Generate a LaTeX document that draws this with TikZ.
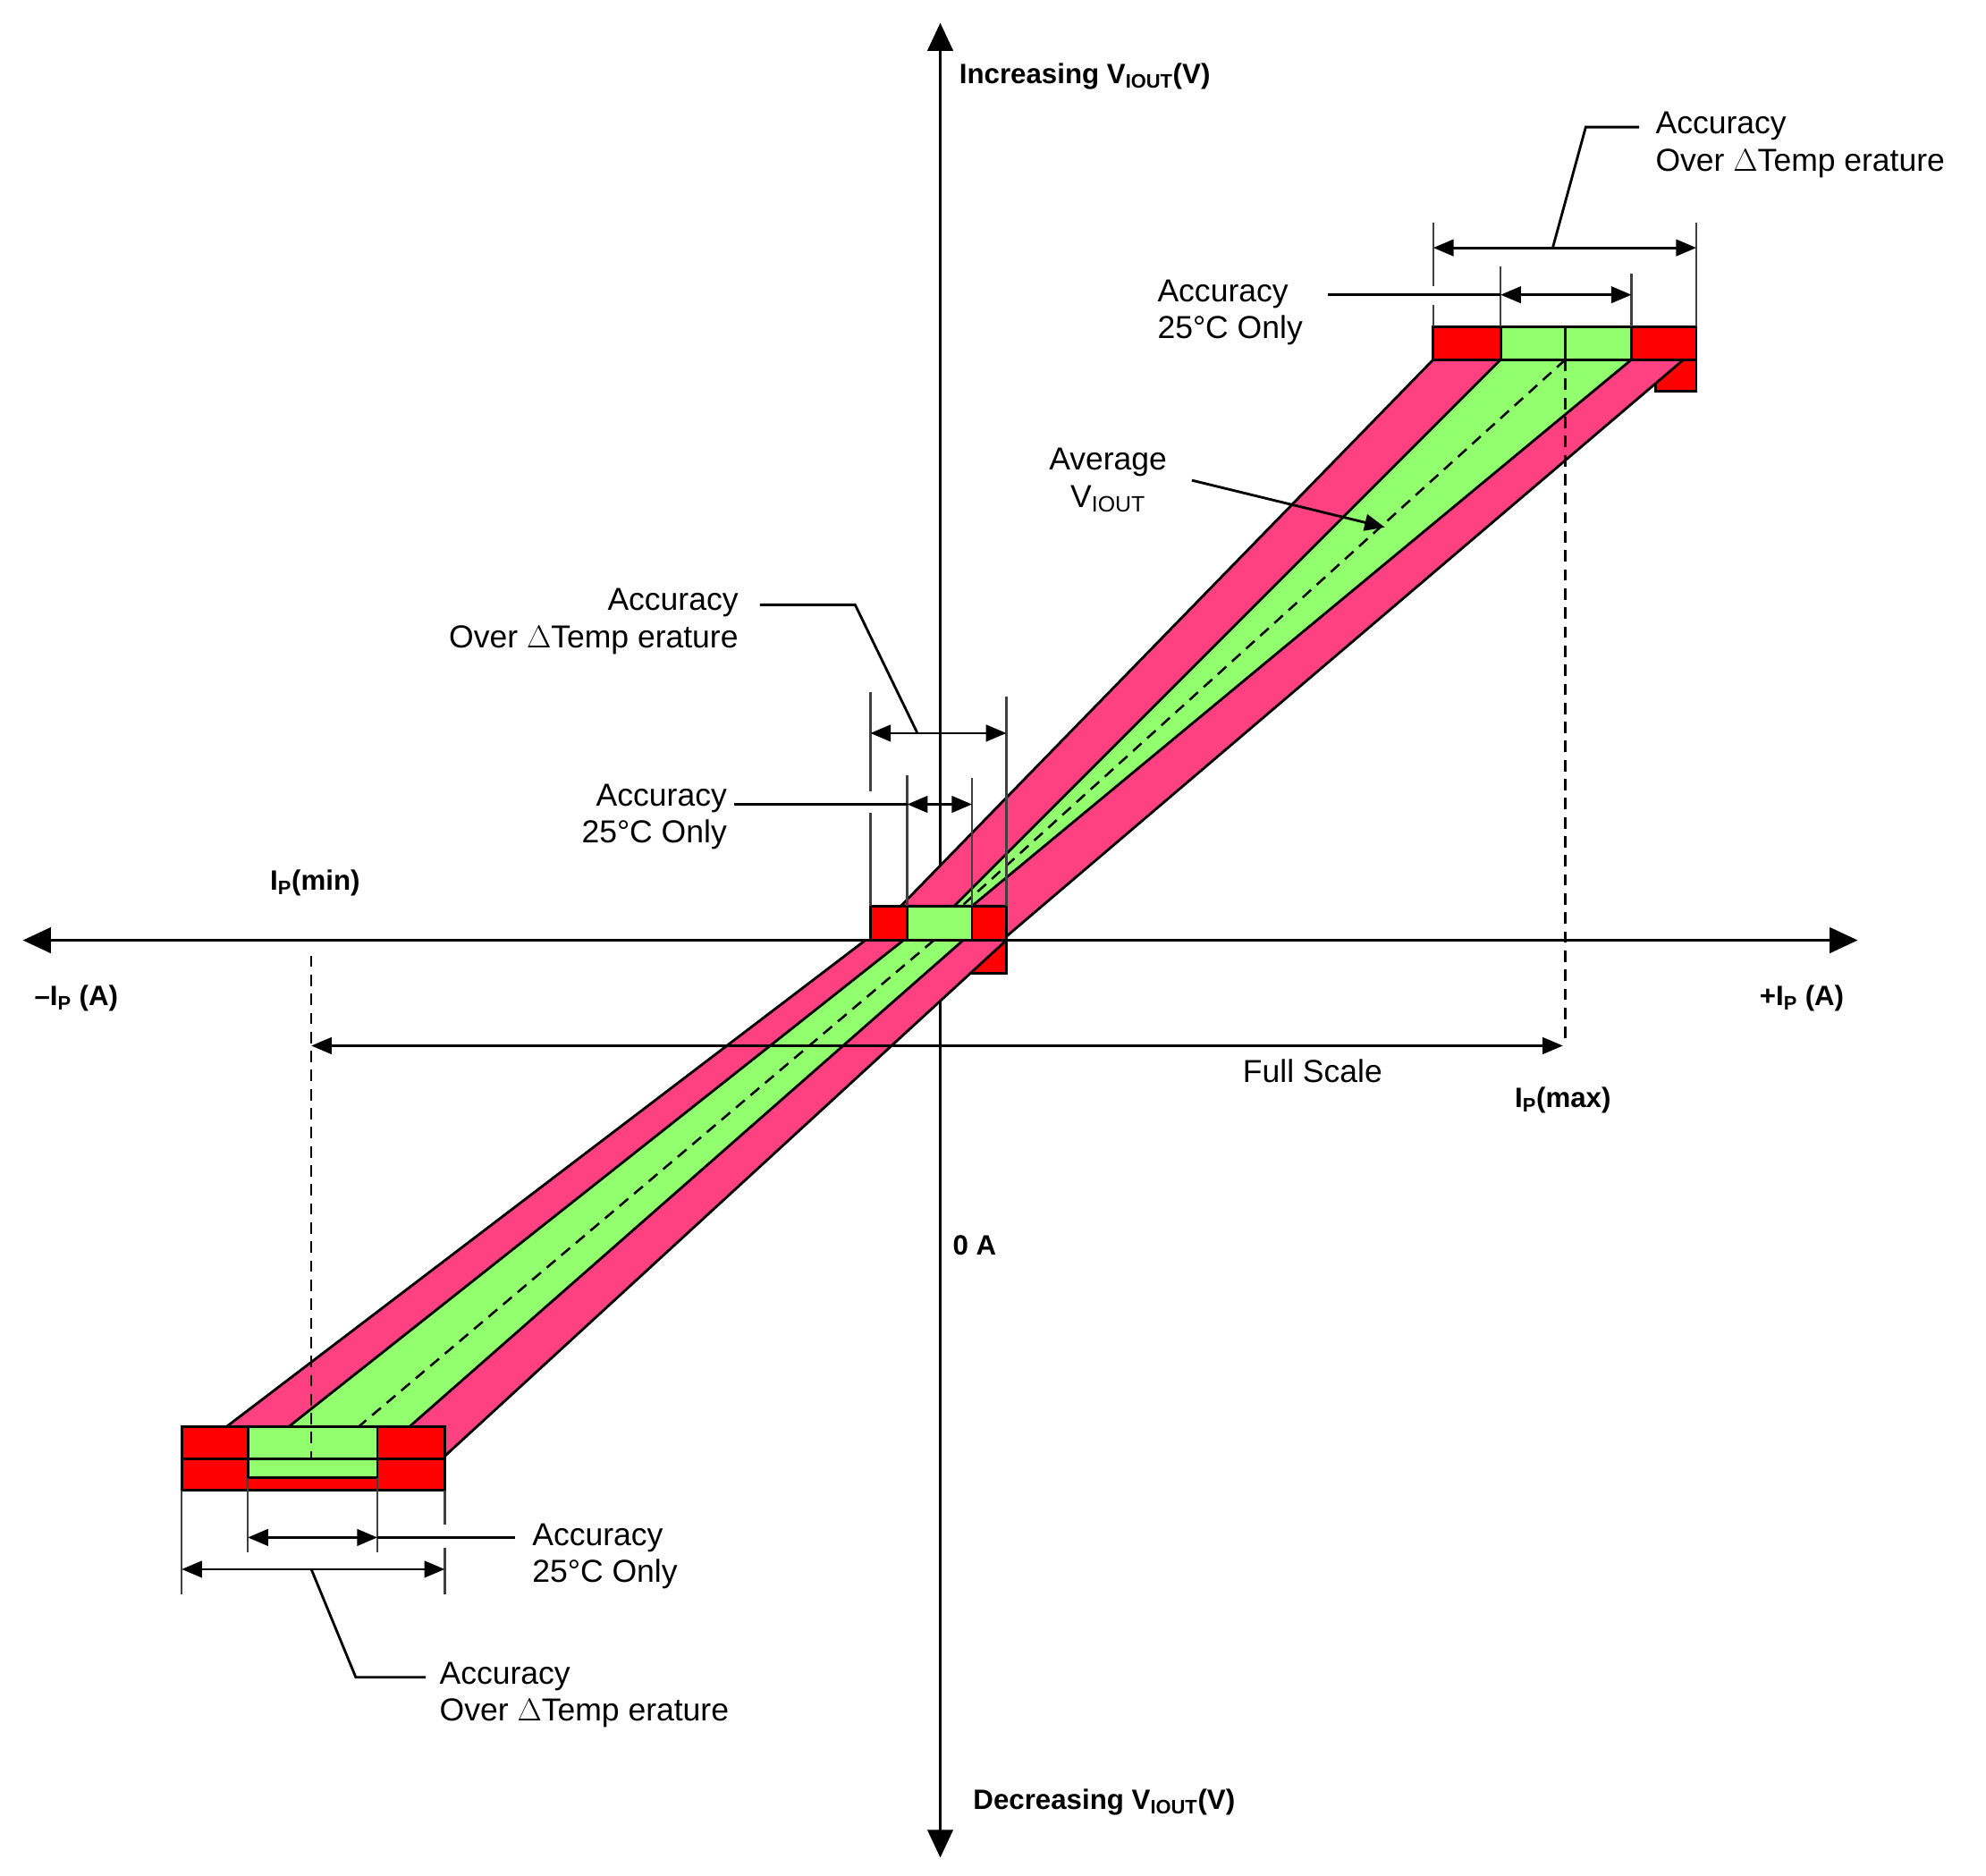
\documentclass[tikz,border=0pt]{standalone}
\usepackage{fontspec}
\setmainfont{Liberation Sans}
\usetikzlibrary{arrows.meta}
\definecolor{rd}{RGB}{255,0,0}
\definecolor{pk}{RGB}{255,64,129}
\definecolor{gr}{RGB}{145,255,110}
\begin{document}
\begin{tikzpicture}[x=1pt,y=-1pt,line width=2pt,
  lbl/.style={font=\fontsize{25}{29}\selectfont,inner sep=0pt,align=left},
  bl/.style={font=\fontsize{22}{26}\selectfont\bfseries,inner sep=0pt},
  dim/.style={{Triangle[length=16pt,width=13pt]}-{Triangle[length=16pt,width=13pt]},line width=2pt},
  ax/.style={line width=2.2pt,-{Triangle[length=22pt,width=20pt]}},
  ext/.style={line width=1.8pt,black!75},
  bx/.style={draw=black,line width=2pt,line join=miter},
  dsh/.style={dashed,dash pattern=on 9pt off 6pt,line width=1.8pt}]
\useasboundingbox (0,0) rectangle (1563,1476);
% small red corners below blocks
\draw[bx,fill=rd] (1303,283) rectangle (1335,308);
\draw[bx,fill=rd] (765,740) rectangle (792,766);
% axes
\coordinate (xl) at (18,740); \coordinate (xr) at (1462,740);
\coordinate (yb) at (740,1462); \coordinate (yt) at (740,18);
\draw[ax] (740,740) -- (xl);
\draw[ax] (740,740) -- (xr);
\draw[ax] (740,740) -- (yb);
\draw[ax] (740,740) -- (yt);
% lower bands
\draw[bx,fill=pk] (681,740) -- (792,740) -- (350,1146) -- (350,1123) -- (178,1123) -- cycle;
\draw[bx,fill=gr] (711,740) -- (758,740) -- (322,1123) -- (227,1123) -- cycle;
% upper bands
\draw[bx,fill=pk] (709,713) -- (792,713) -- (792,737) -- (1325,283) -- (1128,283) -- cycle;
\draw[bx,fill=gr] (751,713) -- (765,713) -- (1284,283) -- (1181,283) -- cycle;
% center dashed lines
\draw[dsh] (1232,283) -- (757,713);
\draw[dsh] (735,740) -- (282,1123);
\draw[dsh] (1232,283) -- (1232,822);
% blocks
\draw[bx,fill=rd] (1128,257) rectangle (1335,283);
\draw[bx,fill=gr] (1181,257) rectangle (1284,283);
\draw (1232,257) -- (1232,283);
\draw[bx,fill=rd] (685,713) rectangle (792,740);
\draw[bx,fill=gr] (714,713) rectangle (765,740);
\draw[bx,fill=rd] (143,1123) rectangle (350,1173);
\draw[bx,fill=gr] (195,1123) rectangle (297,1163);
\draw (143,1148) -- (350,1148);
\draw[dsh] (245,752) -- (245,1148);
% top dimensions
\draw[ext] (1128,175) -- (1128,225) (1128,240) -- (1128,257);
\draw[ext] (1335,175) -- (1335,257);
\draw[ext] (1181,210) -- (1181,257);
\draw[ext] (1284,215) -- (1284,257);
\coordinate (t1) at (1128,195); \coordinate (t2) at (1335,195);
\draw[dim] (t1) -- (t2);
\coordinate (t3) at (1181,232); \coordinate (t4) at (1284,232);
\draw[dim] (t3) -- (t4);
\draw (1045,232) -- (t3);
\draw (1222,195) -- (1248,100) -- (1290,100);
\node[lbl,anchor=west] (tA) at (1302,114) {Accuracy\\Over $\Delta$Temp erature};
\node[lbl,anchor=west] (t25) at (910,246) {Accuracy\\25°C Only};
% mid dimensions
\draw[ext] (685,545) -- (685,623) (685,640) -- (685,713);
\draw[ext] (792,548) -- (792,713);
\draw[ext] (714,610) -- (714,713);
\draw[ext] (765,612) -- (765,713);
\coordinate (m1) at (685,577); \coordinate (m2) at (792,577);
\draw[dim] (m1) -- (m2);
\coordinate (m3) at (714,633); \coordinate (m4) at (765,633);
\draw[dim] (m3) -- (m4);
\draw (578,633) -- (m3);
\draw (722,577) -- (673,476) -- (598,476);
\node[lbl,anchor=east,align=right] (mA) at (582,489) {Accuracy\\Over $\Delta$Temp erature};
\node[lbl,anchor=east,align=right] (m25) at (573,643) {Accuracy\\25°C Only};
% bottom dimensions
\draw[ext] (143,1173) -- (143,1255);
\draw[ext] (350,1173) -- (350,1200) (350,1218) -- (350,1255);
\draw[ext] (195,1163) -- (195,1222);
\draw[ext] (297,1163) -- (297,1222);
\coordinate (b3) at (195,1210); \coordinate (b4) at (297,1210);
\draw[dim] (b3) -- (b4);
\coordinate (b1) at (143,1235); \coordinate (b2) at (350,1235);
\draw[dim] (b1) -- (b2);
\draw (b4) -- (405,1210);
\draw (245,1235) -- (280,1320) -- (335,1320);
\node[lbl,anchor=west] (b25) at (418,1225) {Accuracy\\25°C Only};
\node[lbl,anchor=west] (bA) at (345,1334) {Accuracy\\Over $\Delta$Temp erature};
% full scale
\coordinate (f1) at (245,823); \coordinate (f2) at (1230,823);
\draw[dim] (f1) -- (f2);
\node[lbl] (fs) at (1033,843) {Full Scale};
% average
\node[lbl,align=center] (avg) at (872,378) {Average\\V\textsubscript{IOUT}};
\coordinate (avt) at (1090,415);
\draw[-{Triangle[length=16pt,width=13pt]}] (938,378) -- (avt);
% axis labels
\node[bl] (ipmax) at (1230,866) {I\textsubscript{P}(max)};
\node[bl] (ipmin) at (248,695) {I\textsubscript{P}(min)};
\node[bl] (ipn) at (60,786) {–I\textsubscript{P} (A)};
\node[bl] (ipp) at (1418,786) {+I\textsubscript{P} (A)};
\node[bl] (z) at (767,980) {0 A};
\node[bl,anchor=west] (inc) at (754,60) {Increasing V\textsubscript{IOUT}(V)};
\node[bl,anchor=west] (dec) at (765,1418) {Decreasing V\textsubscript{IOUT}(V)};
\end{tikzpicture}
\end{document}
